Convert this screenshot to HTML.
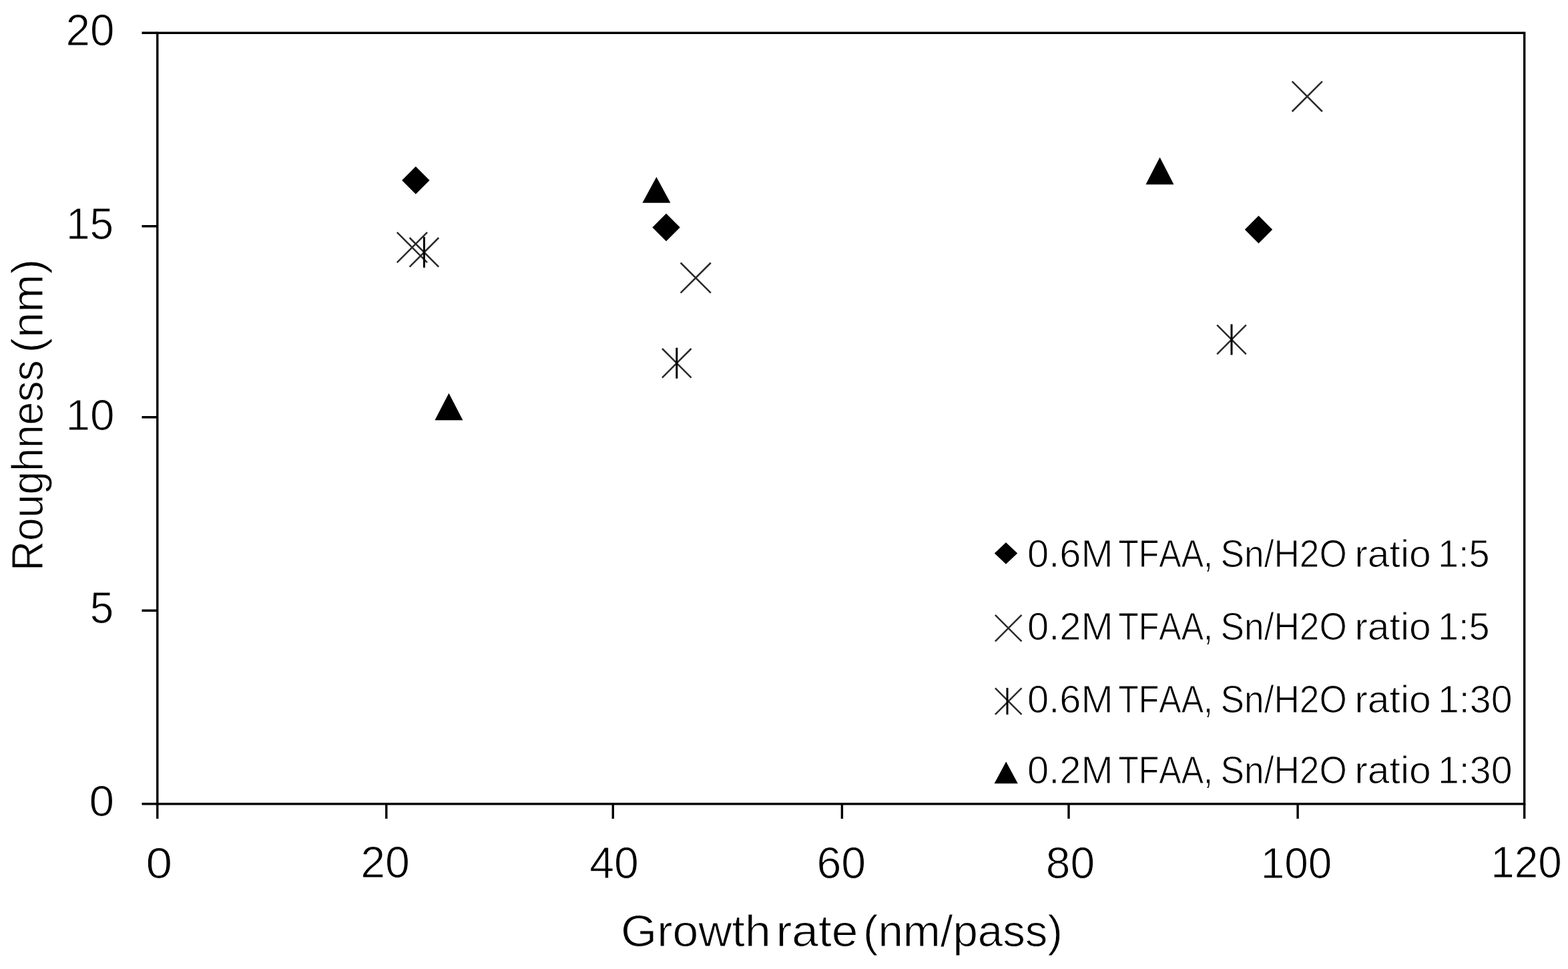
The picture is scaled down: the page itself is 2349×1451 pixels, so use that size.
<!DOCTYPE html>
<html lang="en"><head><meta charset="utf-8"><title>Roughness vs growth rate</title>
<style>html,body{margin:0;padding:0;background:#fff;overflow:hidden;}svg{display:block;}.t{font-family:"Liberation Sans",Arial,sans-serif;fill:#000;stroke:#fff;stroke-width:1.00px;font-kerning:none;}</style></head><body>
<svg width="2349" height="1451" viewBox="0 0 2349 1451">
<rect x="0" y="0" width="2349" height="1451" fill="#fff"/>
<g>
<rect x="235.80" y="49.30" width="2047.90" height="1154.50" fill="none" stroke="#000" stroke-width="3.4"/>
<path d="M212.5,49.30H235.80M212.5,338.80H235.80M212.5,624.80H235.80M212.5,914.30H235.80M212.5,1203.80H235.80M235.80,1203.80V1226M578.80,1203.80V1226M918.30,1203.80V1226M1261.40,1203.80V1226M1601.00,1203.80V1226M1944.10,1203.80V1226M2283.70,1203.80V1226" stroke="#000" stroke-width="3.4" fill="none"/>
<g fill="#000">
<polygon points="622.80,249.30 643.50,270.00 622.80,290.70 602.10,270.00"/>
<polygon points="998.00,319.80 1018.70,340.50 998.00,361.20 977.30,340.50"/>
<polygon points="1885.50,323.10 1906.20,343.80 1885.50,364.50 1864.80,343.80"/>
<polygon points="672.40,588.70 693.40,629.30 651.40,629.30"/>
<polygon points="983.40,264.90 1004.40,303.80 962.40,303.80"/>
<polygon points="1737.50,235.40 1758.50,276.20 1716.50,276.20"/>
<polygon points="1507.00,812.30 1524.20,828.50 1507.00,844.70 1489.80,828.50"/>
<polygon points="1507.20,1140.50 1524.80,1173.20 1489.60,1173.20"/>
</g>
<path d="M594.80,347.90L640.00,393.10M640.00,347.90L594.80,393.10M1019.60,393.50L1064.80,438.70M1064.80,393.50L1019.60,438.70M1935.70,121.80L1980.90,167.00M1980.90,121.80L1935.70,167.00M613.60,356.00L657.20,399.60M657.20,356.00L613.60,399.60M992.00,522.00L1035.60,565.60M1035.60,522.00L992.00,565.60M1823.20,486.70L1866.80,530.30M1866.80,486.70L1823.20,530.30M1490.90,920.80L1530.50,960.40M1530.50,920.80L1490.90,960.40M1490.90,1030.30L1530.50,1069.90M1530.50,1030.30L1490.90,1069.90" stroke="#2a2a2a" stroke-width="2.5" fill="none"/>
<path d="M635.40,354.80V400.80M1013.80,520.80V566.80M1845.00,485.50V531.50M1509.0,1030.10V1070.10" stroke="#000" stroke-width="3.0" fill="none"/>
<text class="t" y="68.00" font-size="65.74"><tspan x="98.40" textLength="73.06" lengthAdjust="spacingAndGlyphs">20</tspan></text>
<text class="t" y="357.50" font-size="67.24"><tspan x="99.00" textLength="71.23" lengthAdjust="spacingAndGlyphs">15</tspan></text>
<text class="t" y="643.90" font-size="65.15"><tspan x="98.40" textLength="73.20" lengthAdjust="spacingAndGlyphs">10</tspan></text>
<text class="t" y="933.40" font-size="67.24"><tspan x="134.80" textLength="35.55" lengthAdjust="spacingAndGlyphs">5</tspan></text>
<text class="t" y="1222.30" font-size="63.94"><tspan x="133.60" textLength="37.66" lengthAdjust="spacingAndGlyphs">0</tspan></text>
<text class="t" y="1314.90" font-size="65.45"><tspan x="218.40" textLength="39.62" lengthAdjust="spacingAndGlyphs">0</tspan></text>
<text class="t" y="1314.30" font-size="66.88"><tspan x="540.20" textLength="73.77" lengthAdjust="spacingAndGlyphs">20</tspan></text>
<text class="t" y="1314.50" font-size="66.88"><tspan x="883.30" textLength="73.54" lengthAdjust="spacingAndGlyphs">40</tspan></text>
<text class="t" y="1314.50" font-size="66.88"><tspan x="1223.40" textLength="73.73" lengthAdjust="spacingAndGlyphs">60</tspan></text>
<text class="t" y="1314.50" font-size="66.88"><tspan x="1566.80" textLength="73.39" lengthAdjust="spacingAndGlyphs">80</tspan></text>
<text class="t" y="1314.50" font-size="65.72"><tspan x="1888.70" textLength="106.71" lengthAdjust="spacingAndGlyphs">100</tspan></text>
<text class="t" y="1314.30" font-size="66.03"><tspan x="2233.30" textLength="106.58" lengthAdjust="spacingAndGlyphs">120</tspan></text>
<text class="t" y="1416.70" font-size="66.00"><tspan x="930.00" textLength="224.66" lengthAdjust="spacingAndGlyphs">Growth</tspan> <tspan x="1162.60" textLength="122.94" lengthAdjust="spacingAndGlyphs">rate</tspan> <tspan x="1293.00" textLength="298.84" lengthAdjust="spacingAndGlyphs">(nm/pass)</tspan></text>
<text class="t" transform="translate(64.00,0) rotate(-90)" y="0" font-size="66.00"><tspan x="-855.00" textLength="315.70" lengthAdjust="spacingAndGlyphs">Roughness</tspan> <tspan x="-528.60" textLength="140.89" lengthAdjust="spacingAndGlyphs">(nm)</tspan></text>
<text class="t" y="848.50" font-size="57.50"><tspan x="1539.00" textLength="128.56" lengthAdjust="spacingAndGlyphs">0.6M</tspan> <tspan x="1675.20" textLength="141.70" lengthAdjust="spacingAndGlyphs">TFAA,</tspan> <tspan x="1828.60" textLength="189.17" lengthAdjust="spacingAndGlyphs">Sn/H2O</tspan> <tspan x="2029.20" textLength="114.62" lengthAdjust="spacingAndGlyphs">ratio</tspan> <tspan x="2154.00" textLength="77.66" lengthAdjust="spacingAndGlyphs">1:5</tspan></text>
<text class="t" y="958.00" font-size="57.50"><tspan x="1539.00" textLength="128.56" lengthAdjust="spacingAndGlyphs">0.2M</tspan> <tspan x="1675.20" textLength="141.70" lengthAdjust="spacingAndGlyphs">TFAA,</tspan> <tspan x="1828.60" textLength="189.17" lengthAdjust="spacingAndGlyphs">Sn/H2O</tspan> <tspan x="2029.20" textLength="114.62" lengthAdjust="spacingAndGlyphs">ratio</tspan> <tspan x="2154.00" textLength="77.66" lengthAdjust="spacingAndGlyphs">1:5</tspan></text>
<text class="t" y="1067.30" font-size="57.50"><tspan x="1539.00" textLength="128.56" lengthAdjust="spacingAndGlyphs">0.6M</tspan> <tspan x="1675.20" textLength="141.70" lengthAdjust="spacingAndGlyphs">TFAA,</tspan> <tspan x="1828.60" textLength="189.17" lengthAdjust="spacingAndGlyphs">Sn/H2O</tspan> <tspan x="2029.20" textLength="114.62" lengthAdjust="spacingAndGlyphs">ratio</tspan> <tspan x="2154.00" textLength="111.53" lengthAdjust="spacingAndGlyphs">1:30</tspan></text>
<text class="t" y="1172.70" font-size="57.50"><tspan x="1539.00" textLength="128.56" lengthAdjust="spacingAndGlyphs">0.2M</tspan> <tspan x="1675.20" textLength="141.70" lengthAdjust="spacingAndGlyphs">TFAA,</tspan> <tspan x="1828.60" textLength="189.17" lengthAdjust="spacingAndGlyphs">Sn/H2O</tspan> <tspan x="2029.20" textLength="114.62" lengthAdjust="spacingAndGlyphs">ratio</tspan> <tspan x="2154.00" textLength="111.53" lengthAdjust="spacingAndGlyphs">1:30</tspan></text>
</g></svg></body></html>
